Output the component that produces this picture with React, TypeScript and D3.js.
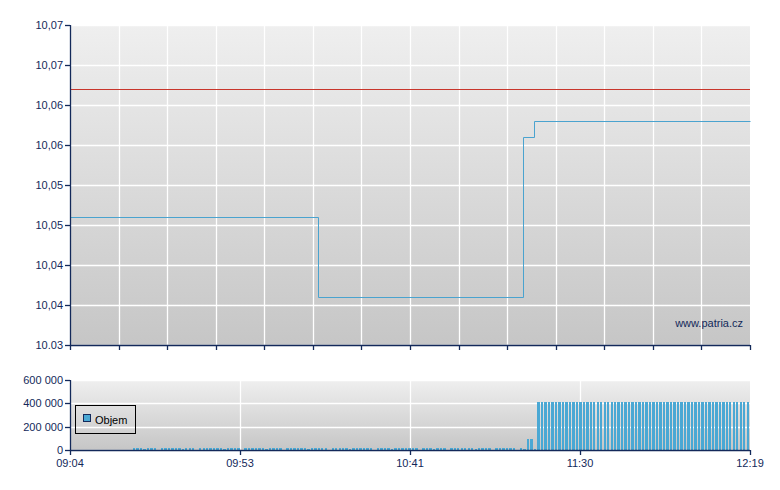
import React, { useRef, useEffect } from 'react';
import * as d3 from 'd3';

// cena - skoky v case
const priceTimes = ['09:04', '10:15', '11:14', '11:17', '12:19'];
const prices = [10.046, 10.036, 10.056, 10.058, 10.058];
const refPrice = 10.062;

const priceTicks = [10.03, 10.035, 10.04, 10.045, 10.05, 10.055, 10.06, 10.065, 10.07];
const priceTickLabels = ['10.03', '10,04', '10,04', '10,05', '10,05', '10,06', '10,06', '10,07', '10,07'];

const volTicks = [0, 200000, 400000, 600000];
const volTickLabels = ['0', '200 000', '400 000', '600 000'];
const timeLabels = ['09:04', '09:53', '10:41', '11:30', '12:19'];

// objem po minutach od 09:04
const volumes = [
  0, 0, 0, 0, 0, 0, 0, 0, 0, 0,
  0, 0, 0, 0, 0, 0, 0, 0, 15000, 18000,
  15000, 12000, 16000, 14000, 18000, 0, 15000, 13000, 17000, 15000,
  16000, 14000, 12000, 15000, 18000, 16000, 0, 14000, 15000, 13000,
  17000, 15000, 14000, 16000, 12000, 15000, 18000, 14000, 16000, 0,
  15000, 13000, 17000, 14000, 16000, 15000, 12000, 18000, 14000, 15000,
  16000, 0, 13000, 15000, 17000, 14000, 16000, 15000, 12000, 14000,
  18000, 15000, 16000, 13000, 0, 15000, 17000, 14000, 16000, 15000,
  12000, 14000, 18000, 15000, 16000, 13000, 15000, 0, 17000, 14000,
  16000, 15000, 12000, 14000, 18000, 15000, 16000, 13000, 15000, 17000,
  0, 14000, 16000, 15000, 12000, 14000, 18000, 15000, 0, 16000,
  13000, 15000, 17000, 14000, 16000, 15000, 12000, 14000, 18000, 15000,
  16000, 0, 13000, 15000, 17000, 14000, 16000, 15000, 0, 14000,
  8000, 95000, 95000, 8000, 410000, 410000, 410000, 410000, 410000, 410000,
  410000, 410000, 410000, 410000, 410000, 410000, 410000, 410000, 410000, 410000,
  410000, 410000, 410000, 410000, 410000, 410000, 410000, 410000, 410000, 410000,
  410000, 410000, 410000, 410000, 410000, 410000, 410000, 410000, 410000, 410000,
  410000, 410000, 410000, 410000, 410000, 410000, 410000, 410000, 410000, 410000,
  410000, 410000, 410000, 410000, 410000, 410000, 410000, 410000, 410000, 410000,
  410000, 410000, 410000, 410000, 410000,
];

const NAVY = '#13295a';
const BLUE = '#4aa3cf';
const FONT = '"Liberation Sans", Arial, sans-serif';

const App = () => {
  const chartRef = useRef(null);

  useEffect(() => {
    const W = 780;
    const H = 490;
    const left = 70;
    const right = 750;
    const top1 = 25;
    const bot1 = 345;
    const top2 = 380;
    const bot2 = 450;

    d3.select(chartRef.current).select('svg').remove();

    const svg = d3.select(chartRef.current)
      .append('svg')
      .attr('width', W)
      .attr('height', H)
      .style('position', 'absolute')
      .style('left', 0)
      .style('top', 0)
      .style('background', '#fff')
      .style('font-family', FONT)
      .style('font-size', '11px');

    const parse = d3.timeParse('%H:%M');
    const t0 = parse('09:04');
    const t1 = parse('12:19');

    const x = d3.scaleTime().domain([t0, t1]).range([left, right]);
    const y = d3.scaleLinear().domain([10.03, 10.07]).range([bot1, top1]);
    const yv = d3.scaleLinear().domain([0, 600000]).range([bot2, top2]);

    const defs = svg.append('defs');
    const grad = defs.append('linearGradient')
      .attr('id', 'bg')
      .attr('x1', 0).attr('y1', 0).attr('x2', 0).attr('y2', 1);
    grad.append('stop').attr('offset', '0%').attr('stop-color', '#efefef');
    grad.append('stop').attr('offset', '100%').attr('stop-color', '#c6c6c6');

    // pozadi
    svg.append('rect')
      .attr('x', left).attr('y', top1)
      .attr('width', right - left).attr('height', bot1 - top1)
      .attr('fill', 'url(#bg)');
    svg.append('rect')
      .attr('x', left).attr('y', top2)
      .attr('width', right - left).attr('height', bot2 - top2)
      .attr('fill', 'url(#bg)');

    // casove znacky
    const dt = (t1.getTime() - t0.getTime());
    const topTicks = d3.range(15).map(i => new Date(t0.getTime() + dt * i / 14));
    const botTicks = d3.range(5).map(i => new Date(t0.getTime() + dt * i / 4));

    // mrizka nahore
    svg.append('g')
      .selectAll('line')
      .data(priceTicks)
      .enter()
      .append('line')
      .attr('x1', left).attr('x2', right)
      .attr('y1', d => Math.round(y(d)) + 0.5)
      .attr('y2', d => Math.round(y(d)) + 0.5)
      .attr('stroke', '#fff')
      .attr('stroke-width', 1.3);
    svg.append('g')
      .selectAll('line')
      .data(topTicks.slice(1, 14))
      .enter()
      .append('line')
      .attr('x1', d => Math.round(x(d)) + 0.5)
      .attr('x2', d => Math.round(x(d)) + 0.5)
      .attr('y1', top1).attr('y2', bot1)
      .attr('stroke', '#fff')
      .attr('stroke-width', 1.3);

    // mrizka dole
    svg.append('g')
      .selectAll('line')
      .data(volTicks)
      .enter()
      .append('line')
      .attr('x1', left).attr('x2', right)
      .attr('y1', d => Math.round(yv(d)) + 0.5)
      .attr('y2', d => Math.round(yv(d)) + 0.5)
      .attr('stroke', '#fff')
      .attr('stroke-width', 1.3);
    svg.append('g')
      .selectAll('line')
      .data(botTicks.slice(1, 4))
      .enter()
      .append('line')
      .attr('x1', d => Math.round(x(d)) + 0.5)
      .attr('x2', d => Math.round(x(d)) + 0.5)
      .attr('y1', top2).attr('y2', bot2)
      .attr('stroke', '#fff')
      .attr('stroke-width', 1.3);

    // referencni cena
    svg.append('line')
      .attr('x1', left).attr('x2', right)
      .attr('y1', Math.round(y(refPrice)) + 0.5)
      .attr('y2', Math.round(y(refPrice)) + 0.5)
      .attr('stroke', '#c8352b')
      .attr('stroke-width', 1);

    // cena
    const pts = priceTimes.map((t, i) => ({ t: parse(t), p: prices[i] }));
    const line = d3.line()
      .x(d => Math.round(x(d.t)) + 0.5)
      .y(d => Math.round(y(d.p)) + 0.5)
      .curve(d3.curveStepAfter);
    svg.append('path')
      .datum(pts)
      .attr('d', line)
      .attr('fill', 'none')
      .attr('stroke', BLUE)
      .attr('stroke-width', 1);

    // objem
    svg.append('g')
      .selectAll('rect')
      .data(volumes)
      .enter()
      .append('rect')
      .attr('x', (d, i) => x(new Date(t0.getTime() + i * 60000)))
      .attr('y', d => yv(d))
      .attr('width', 2.4)
      .attr('height', d => bot2 - yv(d))
      .attr('fill', '#4aa8d4')
      .attr('shape-rendering', 'crispEdges');

    // osy
    const axisG = svg.append('g').attr('stroke', NAVY).attr('stroke-width', 1.3);
    axisG.append('line').attr('x1', left + 0.5).attr('x2', left + 0.5).attr('y1', top1).attr('y2', bot1);
    axisG.append('line').attr('x1', left).attr('x2', right).attr('y1', bot1 + 0.5).attr('y2', bot1 + 0.5);
    axisG.append('line').attr('x1', left + 0.5).attr('x2', left + 0.5).attr('y1', top2).attr('y2', bot2);
    axisG.append('line').attr('x1', left).attr('x2', right).attr('y1', bot2 + 0.5).attr('y2', bot2 + 0.5);

    axisG.selectAll('.yt')
      .data(priceTicks)
      .enter()
      .append('line')
      .attr('x1', left - 5).attr('x2', left)
      .attr('y1', d => Math.round(y(d)) + 0.5)
      .attr('y2', d => Math.round(y(d)) + 0.5);
    axisG.selectAll('.xt')
      .data(topTicks)
      .enter()
      .append('line')
      .attr('x1', d => Math.round(x(d)) + 0.5)
      .attr('x2', d => Math.round(x(d)) + 0.5)
      .attr('y1', bot1).attr('y2', bot1 + 5);
    axisG.selectAll('.vt')
      .data(volTicks)
      .enter()
      .append('line')
      .attr('x1', left - 5).attr('x2', left)
      .attr('y1', d => Math.round(yv(d)) + 0.5)
      .attr('y2', d => Math.round(yv(d)) + 0.5);
    axisG.selectAll('.bt')
      .data(botTicks)
      .enter()
      .append('line')
      .attr('x1', d => Math.round(x(d)) + 0.5)
      .attr('x2', d => Math.round(x(d)) + 0.5)
      .attr('y1', bot2).attr('y2', bot2 + 5);

    // popisky
    svg.append('g')
      .selectAll('text')
      .data(priceTicks)
      .enter()
      .append('text')
      .attr('x', left - 7)
      .attr('y', d => y(d) + 4)
      .attr('text-anchor', 'end')
      .attr('fill', NAVY)
      .text((d, i) => priceTickLabels[i]);
    svg.append('g')
      .selectAll('text')
      .data(volTicks)
      .enter()
      .append('text')
      .attr('x', left - 7)
      .attr('y', d => yv(d) + 4)
      .attr('text-anchor', 'end')
      .attr('fill', NAVY)
      .text((d, i) => volTickLabels[i]);
    svg.append('g')
      .selectAll('text')
      .data(botTicks)
      .enter()
      .append('text')
      .attr('x', d => x(d))
      .attr('y', bot2 + 17)
      .attr('text-anchor', 'middle')
      .attr('fill', NAVY)
      .text((d, i) => timeLabels[i]);

    svg.append('text')
      .attr('x', 743)
      .attr('y', 327)
      .attr('text-anchor', 'end')
      .attr('fill', NAVY)
      .text('www.patria.cz');

    // legenda
    const lg = svg.append('g');
    lg.append('rect')
      .attr('x', 75.5).attr('y', 405.5)
      .attr('width', 60).attr('height', 28)
      .attr('fill', 'none')
      .attr('stroke', '#000');
    lg.append('rect')
      .attr('x', 83.5).attr('y', 414.5)
      .attr('width', 7).attr('height', 7)
      .attr('fill', '#4aa8d4')
      .attr('stroke', NAVY);
    lg.append('text')
      .attr('x', 95)
      .attr('y', 424)
      .attr('fill', '#000')
      .text('Objem');
  }, []);

  return (
    <div ref={chartRef} />
  );
};

export default App;
